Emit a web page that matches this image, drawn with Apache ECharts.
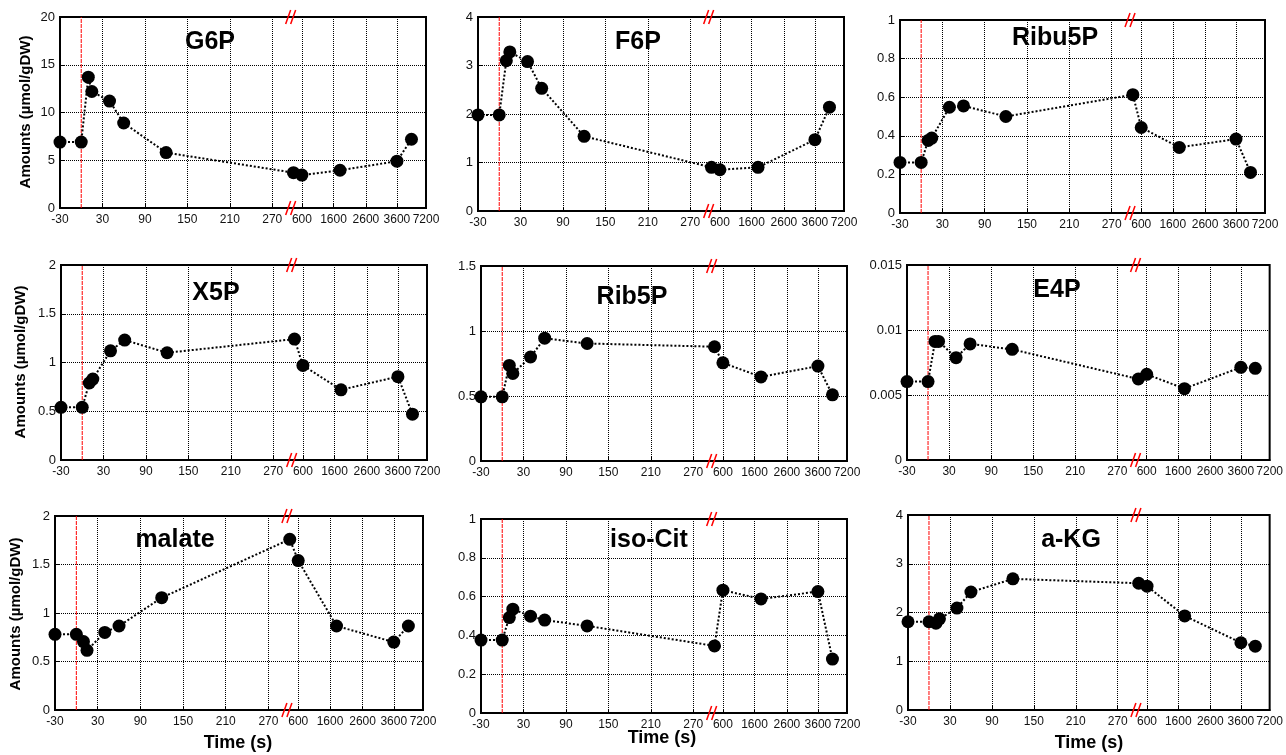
<!DOCTYPE html>
<html><head><meta charset="utf-8">
<script src="https://cdn.jsdelivr.net/npm/echarts@6/dist/echarts.min.js"></script>
<style>html,body{margin:0;padding:0;background:#fff}#c{width:1286px;height:755px}</style>
</head><body><div id="c"></div>
<script>
// Sampling times (s)
const times = [-30, 0, 10, 15, 40, 60, 120, 300, 600, 1800, 3600, 5400];
// Metabolite amounts (µmol/gDW)
const G6P    = [6.9, 6.9, 13.7, 12.2, 11.2, 8.9, 5.8, 3.7, 3.45, 3.95, 4.9, 7.2];
const F6P    = [1.98, 1.98, 3.10, 3.28, 3.08, 2.53, 1.54, 0.90, 0.85, 0.90, 1.47, 2.14];
const Ribu5P = [0.262, 0.262, 0.376, 0.388, 0.548, 0.555, 0.50, 0.613, 0.443, 0.34, 0.383, 0.21];
const X5P    = [0.54, 0.54, 0.79, 0.83, 1.12, 1.23, 1.10, 1.24, 0.97, 0.72, 0.855, 0.47];
const Rib5P  = [0.494, 0.494, 0.735, 0.673, 0.80, 0.945, 0.904, 0.879, 0.755, 0.647, 0.73, 0.509];
const E4P    = [0.00603, 0.00603, 0.00912, 0.00912, 0.00787, 0.00893, 0.00851, 0.00623, 0.00659, 0.00549, 0.00713, 0.00705];
const malate = [0.78, 0.78, 0.705, 0.615, 0.80, 0.866, 1.158, 1.76, 1.54, 0.866, 0.70, 0.866];
const isoCit = [0.376, 0.376, 0.492, 0.535, 0.499, 0.479, 0.449, 0.346, 0.633, 0.588, 0.626, 0.278];
const aKG    = [1.81, 1.81, 1.78, 1.87, 2.09, 2.42, 2.69, 2.60, 2.54, 1.93, 1.38, 1.31];

const panelNames = ['G6P', 'F6P', 'Ribu5P', 'X5P', 'Rib5P', 'E4P', 'malate', 'iso-Cit', 'a-KG'];
const panelData = [G6P, F6P, Ribu5P, X5P, Rib5P, E4P, malate, isoCit, aKG];
const yMax = [20, 4, 1, 2, 1.5, 0.015, 2, 1, 4];
const yStep = [5, 1, 0.2, 0.5, 0.5, 0.005, 0.5, 0.2, 1];

// x tick labels
const xTickTimes = [-30, 30, 90, 150, 210, 270, 600, 1600, 2600, 3600, 7200];
const xTickLabels = ['-30', '30', '90', '150', '210', '270', '600', '1600', '2600', '3600', '7200'];
// broken-axis scale: time -> axis coordinate (piecewise linear)
const scaleTimes = [-30, 300, 600, 1600, 2600, 3600, 7200];
const scalePos   = [0, 330, 341.9, 386.6, 432.4, 476.2, 517.3];
const breakPos = 326;
const stimTime = 0;

function toPos(t) {
  for (let i = 0; i < scaleTimes.length - 1; i++) {
    if (t <= scaleTimes[i + 1] || i === scaleTimes.length - 2) {
      const f = (t - scaleTimes[i]) / (scaleTimes[i + 1] - scaleTimes[i]);
      return scalePos[i] + f * (scalePos[i + 1] - scalePos[i]);
    }
  }
}
const xTickPos = xTickTimes.map(toPos);
const xMax = toPos(7200);

// layout
const grids = [
  [60, 17, 366, 191], [478, 17, 366, 194], [900, 20, 365, 193],
  [61, 265, 366, 195], [481, 266, 366, 195], [907, 265, 366, 195],
  [55, 516, 368, 194], [481, 519, 366, 194], [908, 515, 366, 195]
];
const titlePos = [[210, 42], [638, 42], [1055, 38], [216, 293], [632, 297], [1057, 290], [175, 540], [649, 540], [1071, 540]];

const FONT = 'Liberation Sans, Arial, sans-serif';
const chart = echarts.init(document.getElementById('c'), null, {renderer: 'canvas'});

const option = {
  animation: false,
  backgroundColor: '#fff',
  grid: grids.map(g => ({left: g[0], top: g[1], width: g[2], height: g[3], show: true, borderColor: '#000', borderWidth: 2, backgroundColor: 'transparent', containLabel: false})),
  xAxis: grids.map((g, i) => ({
    type: 'value', gridIndex: i, min: 0, max: xMax,
    axisLine: {show: true, lineStyle: {color: '#000', width: 2}},
    axisTick: {show: true, inside: true, length: 4, customValues: xTickPos, lineStyle: {color: '#000'}},
    axisLabel: {
      customValues: xTickPos, color: '#111', fontSize: 12, fontFamily: FONT, margin: 6,
      showMinLabel: true, showMaxLabel: true, hideOverlap: false,
      formatter: function (v) {
        for (let k = 0; k < xTickPos.length; k++) if (Math.abs(xTickPos[k] - v) < 0.05) return xTickLabels[k];
        return '';
      }
    },
    splitLine: {show: true, lineStyle: {color: '#000', type: 'dotted', width: 1}}
  })),
  yAxis: grids.map((g, i) => ({
    type: 'value', gridIndex: i, min: 0, max: yMax[i], interval: yStep[i],
    axisLine: {show: true, lineStyle: {color: '#000', width: 2}},
    axisTick: {show: true, inside: true, length: 4, lineStyle: {color: '#000'}},
    axisLabel: {color: '#111', fontSize: 13, fontFamily: FONT, margin: 5},
    splitLine: {show: true, lineStyle: {color: '#000', type: 'dotted', width: 1}}
  })),
  series: panelData.map((d, i) => ({
    type: 'line', xAxisIndex: i, yAxisIndex: i,
    data: times.map((t, k) => [toPos(t), d[k]]),
    symbol: 'circle', symbolSize: 13,
    itemStyle: {color: '#000'},
    lineStyle: {color: '#000', width: 2, type: [2, 2]},
    clip: false,
    z: 10
  })),
  graphic: []
};
chart.setOption(option);

// stimulus line, break marks, titles, axis names
const gfx = [];
for (let i = 0; i < 9; i++) {
  const s0 = chart.convertToPixel({xAxisIndex: i, yAxisIndex: i}, [toPos(stimTime), 0]);
  const s1 = chart.convertToPixel({xAxisIndex: i, yAxisIndex: i}, [toPos(stimTime), yMax[i]]);
  gfx.push({type: 'line', z: 1, shape: {x1: s0[0], y1: s0[1], x2: s1[0], y2: s1[1]},
    style: {stroke: '#ff0000', lineWidth: 1, lineDash: [4, 1]}});
  const top = chart.convertToPixel({xAxisIndex: i, yAxisIndex: i}, [breakPos, yMax[i]]);
  const bot = chart.convertToPixel({xAxisIndex: i, yAxisIndex: i}, [breakPos, 0]);
  [top, bot].forEach(p => {
    [-2.5, 2.5].forEach(dx => {
      gfx.push({type: 'line', z: 100, shape: {x1: p[0] + dx - 2.5, y1: p[1] + 7, x2: p[0] + dx + 2.5, y2: p[1] - 7},
        style: {stroke: '#ff0000', lineWidth: 1.5}});
    });
  });
  gfx.push({type: 'text', z: 100, x: titlePos[i][0], y: titlePos[i][1],
    style: {text: panelNames[i], font: 'bold 25px ' + FONT, fill: '#000', textAlign: 'center', textVerticalAlign: 'middle'}});
}
[[26, 112], [21, 362], [16, 614]].forEach(p => {
  gfx.push({type: 'text', z: 100, x: p[0], y: p[1], rotation: Math.PI / 2,
    style: {text: 'Amounts (µmol/gDW)', font: 'bold 15px ' + FONT, fill: '#000', textAlign: 'center', textVerticalAlign: 'middle'}});
});
[[238, 743], [662, 738], [1089, 743]].forEach(p => {
  gfx.push({type: 'text', z: 100, x: p[0], y: p[1],
    style: {text: 'Time (s)', font: 'bold 18px ' + FONT, fill: '#000', textAlign: 'center', textVerticalAlign: 'middle'}});
});
chart.setOption({graphic: gfx});
</script>
</body></html>
